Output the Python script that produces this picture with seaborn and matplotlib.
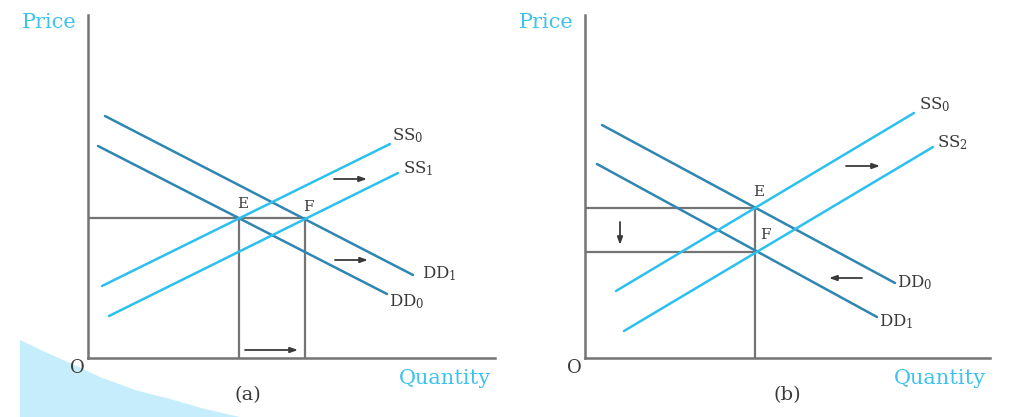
import numpy as np
import pandas as pd
import seaborn as sns
import matplotlib.pyplot as plt
from matplotlib.patches import Polygon

sns.set_style("white")
plt.rcParams['font.family'] = ['DejaVu Serif']
plt.rcParams['mathtext.fontset'] = 'dejavuserif'

# colours
supply_col = '#2cc0ee'
demand_col = '#2f86b1'
axis_col = '#747474'
label_col = '#3fc2ef'
text_col = '#3a3a3a'

# panel (a): curve end points (quantity, price), origin at O
a_curves = ['DD1', 'DD0', 'SS0', 'SS1']
a_q0 = [17, 10, 14, 21]
a_p0 = [242, 212, 72, 42]
a_q1 = [325, 299, 302, 310]
a_p1 = [83, 64, 214, 185]
a_labels = [r'DD$_\mathregular{1}$', r'DD$_\mathregular{0}$', r'SS$_\mathregular{0}$', r'SS$_\mathregular{1}$']
a_lab_off = [(9, 1), (2, -8), (2, 8), (5, 4)]
a_arrows = [((246, 179), (279, 179)), ((247, 98), (280, 98)), ((157, 8), (210, 8))]

# panel (b)
b_curves = ['DD0', 'DD1', 'SS0', 'SS2']
b_q0 = [17, 12, 31, 39]
b_p0 = [233, 194, 67, 27]
b_q1 = [310, 292, 329, 348]
b_p1 = [75, 41, 245, 211]
b_labels = [r'DD$_\mathregular{0}$', r'DD$_\mathregular{1}$', r'SS$_\mathregular{0}$', r'SS$_\mathregular{2}$']
b_lab_off = [(2, 0), (2, -5), (5, 8), (4, 4)]
b_arrows = [((261, 192), (295, 192)), ((277, 80), (244, 80)), ((35, 136), (35, 113))]


def to_df(names, q0, p0, q1, p1):
    rows = []
    for n, a, b, c, d in zip(names, q0, p0, q1, p1):
        rows.append({'curve': n, 'quantity': a, 'price': b})
        rows.append({'curve': n, 'quantity': c, 'price': d})
    return pd.DataFrame(rows)


def cross(df, n1, n2):
    l1 = df[df.curve == n1][['quantity', 'price']].values.astype(float)
    l2 = df[df.curve == n2][['quantity', 'price']].values.astype(float)
    m1 = (l1[1, 1] - l1[0, 1]) / (l1[1, 0] - l1[0, 0])
    m2 = (l2[1, 1] - l2[0, 1]) / (l2[1, 0] - l2[0, 0])
    x = (l2[0, 1] - l1[0, 1] + m1 * l1[0, 0] - m2 * l2[0, 0]) / (m1 - m2)
    return x, l1[0, 1] + m1 * (x - l1[0, 0])


fig = plt.figure(figsize=(10.24, 4.17), dpi=100)
W, H = 1024, 417

# decorative swoosh bottom left
sw = [(20, 340), (45, 352), (70, 363), (100, 377), (135, 390), (170, 399), (205, 409), (240, 417), (20, 417)]
fig.add_artist(Polygon([(x / W, 1 - y / H) for x, y in sw], closed=True,
                       facecolor='#c6edfb', edgecolor='none', transform=fig.transFigure, zorder=0))

ax_a = fig.add_axes([88 / W, 59 / H, 407 / W, 343 / H])
ax_b = fig.add_axes([585 / W, 59 / H, 405 / W, 343 / H])


def draw(ax, names, q0, p0, q1, p1, labels, offs, arrows, width, tag, tag_x):
    df = to_df(names, q0, p0, q1, p1)
    pal = {n: (supply_col if n.startswith('SS') else demand_col) for n in names}
    sns.lineplot(data=df, x='quantity', y='price', hue='curve', palette=pal,
                 estimator=None, sort=False, legend=False, lw=1.8, ax=ax)
    for n, lab, (dx, dy), x, y in zip(names, labels, offs, q1, p1):
        ax.text(x + dx, y + dy, lab, fontsize=12, color=text_col, va='center', ha='left')
    for (s, e) in arrows:
        ax.annotate('', xy=e, xytext=s,
                    arrowprops=dict(arrowstyle='-|>,head_length=0.45,head_width=0.16',
                                    color=text_col, lw=1.3, shrinkA=0, shrinkB=0))
    ax.set_xlim(0, width)
    ax.set_ylim(0, 343)
    ax.set_xticks([])
    ax.set_yticks([])
    ax.set_xlabel('')
    ax.set_ylabel('')
    for s in ['top', 'right']:
        ax.spines[s].set_visible(False)
    for s in ['left', 'bottom']:
        ax.spines[s].set_color(axis_col)
        ax.spines[s].set_linewidth(1.8)
    ax.patch.set_alpha(0)
    ax.text(-11, -10, 'O', fontsize=13, color=text_col, ha='center', va='center')
    ax.text(tag_x, -37, tag, fontsize=14, color=text_col, ha='center', va='center')
    ax.text(width - 50, -20, 'Quantity', fontsize=15, color=label_col, ha='center', va='center')
    ax.text(-39, 335, 'Price', fontsize=15, color=label_col, ha='center', va='center')
    return df


df_a = draw(ax_a, a_curves, a_q0, a_p0, a_q1, a_p1, a_labels, a_lab_off, a_arrows, 407, '(a)', 160)
df_b = draw(ax_b, b_curves, b_q0, b_p0, b_q1, b_p1, b_labels, b_lab_off, b_arrows, 405, '(b)', 202)

# panel (a) guides
ea = cross(df_a, 'DD0', 'SS0')
fa = cross(df_a, 'DD1', 'SS1')
ax_a.plot([0, fa[0]], [ea[1], ea[1]], color=axis_col, lw=1.6, zorder=1)
ax_a.plot([ea[0], ea[0]], [0, ea[1]], color=axis_col, lw=1.6, zorder=1)
ax_a.plot([fa[0], fa[0]], [0, fa[1]], color=axis_col, lw=1.6, zorder=1)
ax_a.text(ea[0] + 3, ea[1] + 14, 'E', fontsize=11, color=text_col, ha='center', va='center')
ax_a.text(fa[0] + 4, fa[1] + 12, 'F', fontsize=11, color=text_col, ha='center', va='center')

# panel (b) guides
eb = cross(df_b, 'DD0', 'SS0')
fb = cross(df_b, 'DD1', 'SS2')
ax_b.plot([0, eb[0]], [eb[1], eb[1]], color=axis_col, lw=1.6, zorder=1)
ax_b.plot([0, eb[0]], [fb[1], fb[1]], color=axis_col, lw=1.6, zorder=1)
ax_b.plot([eb[0], eb[0]], [0, eb[1]], color=axis_col, lw=1.6, zorder=1)
ax_b.text(eb[0] + 3, eb[1] + 16, 'E', fontsize=11, color=text_col, ha='center', va='center')
ax_b.text(eb[0] + 10, fb[1] + 17, 'F', fontsize=11, color=text_col, ha='center', va='center')

fig.savefig('out.png', dpi=100)
